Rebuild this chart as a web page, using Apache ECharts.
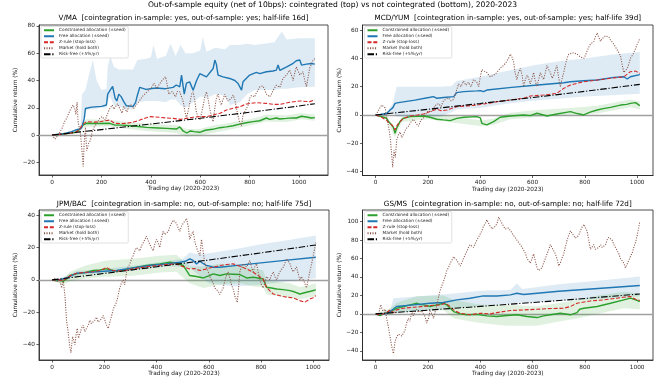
<!DOCTYPE html>
<html><head><meta charset="utf-8">
<script src="https://cdn.jsdelivr.net/npm/echarts@6/dist/echarts.min.js"></script>
<style>html,body{margin:0;padding:0;background:#fff}#c{width:665px;height:383px}</style>
</head><body><div id="c"></div><script>
// ---------------- DATA ----------------
const seriesNames = ['Constrained allocation (±seed)','Free allocation (±seed)','Z-rule (stop-loss)','Market (hold both)','Risk-free (+5%/yr)'];
const suptitle = 'Out-of-sample equity (net of 10bps): cointegrated (top) vs not cointegrated (bottom), 2020-2023';
const panelTitles = [
 'V/MA  [cointegration in-sample: yes, out-of-sample: yes; half-life 16d]',
 'MCD/YUM  [cointegration in-sample: yes, out-of-sample: yes; half-life 39d]',
 'JPM/BAC  [cointegration in-sample: no, out-of-sample: no; half-life 75d]',
 'GS/MS  [cointegration in-sample: no, out-of-sample: no; half-life 72d]'
];
const xTicks = [0,200,400,600,800,1000];
const yTicksVMA = [-20,0,20,40,60,80];
const yTicksMCD = [-40,-20,0,20,40,60];
const yTicksJPM = [-40,-20,0,20,40];
const yTicksGS  = [-40,-20,0,20,40,60,80,100];

// V/MA
const vmaConstrained = [[0,0],[30,0.5],[60,1],[95,2],[110,4],[125,7.3],[140,8.6],[180,8.5],[233,8.6],[254,7.3],[287,7.3],[328,6.6],[382,5.6],[430,5.2],[463,4.9],[503,4.4],[517,6],[530,3],[545,1.5],[560,3],[575,2.5],[598,2],[620,3.5],[650,4.2],[679,5.4],[706,6],[733,6.8],[760,8],[786,9],[814,9.8],[841,10.5],[868,12.5],[881,11.5],[908,12.5],[922,11.8],[949,12.2],[975,12.6],[989,12.5],[1010,13.8],[1030,13.2],[1050,12.5],[1064,12.8]];
const vmaConstrainedBand = [[0,0,0],[100,1,3],[125,5,10],[140,6,11.5],[233,6.5,11],[287,5,10],[382,3,8.5],[463,2,7.5],[503,1.5,7.3],[545,-1,4.5],[598,-0.5,4.5],[650,1.5,7],[706,3.5,8.5],[760,5.5,10.5],[814,7.5,12],[868,10,15],[949,9.5,14.5],[1010,11.5,16],[1064,10.5,15]];
const vmaFree = [[0,0],[20,0.5],[40,0.8],[60,1.5],[80,2.5],[100,4],[115,4.5],[121,6],[130,12],[135,19.5],[160,20.5],[200,21],[220,22],[225,30],[235,33],[245,35.6],[255,27],[262,25],[270,30],[280,28],[290,24.5],[300,21.5],[328,21],[338,24],[345,29],[355,35],[380,33.5],[420,34.5],[460,34],[490,35],[503,36.7],[517,35.4],[524,44],[535,30],[544,38],[557,39],[571,32.9],[585,40],[598,45],[625,42.7],[652,48.8],[659,55],[665,52],[672,44],[692,42.7],[719,41.5],[740,40],[753,37.8],[767,32.9],[773,39],[800,44],[827,46],[841,45],[868,46.4],[895,47],[908,47.6],[915,51.3],[922,47.5],[950,50],[976,52.6],[989,54.5],[1003,55],[1010,51.3],[1030,52],[1050,52.5],[1064,52]];
const vmaFreeBand = [[0,0,0],[60,1,2],[100,3,5],[115,3.5,6],[121,4,30],[135,18,33],[150,19,45],[165,19,55],[180,19.5,40],[200,20,33],[220,20,34],[225,25,50],[235,28,58],[250,22,50],[270,21,48],[300,19,48],[328,19,48],[345,24,55],[380,25,56],[400,25,57],[410,25,66],[425,25,56],[460,24,58],[480,26,67],[500,26,58],[520,22,66],[540,20,60],[570,24,60],[600,28,62],[610,28,72],[625,27,61],[660,30,64],[700,29,63],[720,22,66],[760,24,66],[790,30,67],[820,33,66],[860,33,67],[900,33,68],[930,34,76],[950,34,70],[1000,35,71],[1064,35.5,71]];
const vmaZrule = [[0,0],[30,0.5],[60,1],[95,2],[110,4],[125,8],[139,9.8],[170,9.5],[193,9.8],[233,11],[254,8.6],[280,8.5],[301,8.6],[330,9.5],[355,11],[395,13.5],[436,13],[463,12.5],[490,12.2],[520,11.5],[544,12.2],[570,13],[598,13.5],[625,13.5],[652,14.7],[680,16],[706,18.3],[733,19.6],[760,20.8],[787,22.8],[827,23.7],[868,23.2],[895,22.5],[922,22.5],[962,24],[1003,25],[1043,24.5],[1064,25.7]];
const vmaMarket = [[0,0],[5,-1],[11,-3],[20,-1],[31,2],[40,5],[51,10],[58,12],[65,15],[72,18],[78,20],[85,22],[92,19],[96,15],[101,24],[105,10],[110,5],[115,0.4],[120,-10],[126,-23],[130,-5],[135,5.6],[140,-11.5],[148,-6],[155,-4],[162,2],[170,6],[182,8.6],[192,12],[202,13.5],[215,11],[230,18.3],[243,22],[250,19],[257,18.3],[265,23],[270,20.8],[283,16],[290,21],[297,20.8],[303,17],[310,20.8],[320,22],[330,19.5],[340,22],[351,24.4],[364,28],[378,30.5],[392,33],[405,35.4],[412,38],[418,39],[425,34],[432,36.7],[445,40],[459,42.8],[465,38],[472,30],[486,32],[500,28],[507,32],[517,31.7],[524,28],[531,24.4],[537,18],[544,12.2],[551,18],[558,24],[565,30],[571,31.7],[578,25],[584,17],[591,13],[598,11],[605,16],[612,22],[618,28],[625,31.7],[632,26],[638,19.5],[645,14],[652,9.8],[659,20],[665,27],[672,30],[679,25],[685,22],[692,26],[699,30],[706,27],[712,25],[719,24.4],[726,27],[733,29.3],[740,26],[746,20],[753,14],[760,9],[767,6.6],[773,15],[780,17],[787,19.5],[794,22],[800,27],[807,29],[814,30],[820,28],[827,31],[834,33],[841,35.4],[848,34],[854,36],[861,33],[868,30],[875,31],[881,28],[888,30],[895,32.9],[902,34],[908,36.6],[915,37],[922,35],[928,38],[935,41.5],[942,42],[949,43.9],[955,45],[962,47.6],[969,44],[976,40],[982,45],[989,50],[996,47],[1003,44],[1010,45],[1016,46.4],[1023,40],[1030,35.4],[1036,42],[1043,49],[1050,52],[1057,55],[1064,56]];
const vmaRiskfree = [[0,0],[200,4],[400,8.1],[600,12.3],[800,16.7],[1000,21.3],[1064,23]];

// MCD/YUM
const mcdConstrained = [[0,0],[17,-1],[30,-1.5],[42,-2.4],[49,-4.7],[61,-7],[68,-9],[74,-13],[80,-9.4],[93,-4.7],[106,-2.4],[132,-1.2],[160,-1],[183,-0.7],[208,-1.6],[234,-3],[259,-3.5],[285,-4],[310,-2.4],[336,-1.6],[387,-1.2],[400,-2],[406,-5.9],[425,-7],[451,-4.7],[476,-1.6],[515,-0.7],[566,0],[591,-0.5],[617,1.2],[655,-0.7],[693,0.7],[745,2.4],[770,1],[796,0],[820,2],[847,3.5],[870,4.5],[898,5.4],[936,7],[960,7.5],[974,8.2],[994,8.7],[1010,6.6]];
const mcdConstrainedBand = [[0,0,0],[40,-3,-0.5],[74,-16,-10],[100,-5,-1],[200,-3,0.5],[300,-5.5,-1],[406,-8,-4],[451,-7,-2.5],[515,-3,1.5],[617,-1.5,3.5],[745,0,5],[847,1,6.5],[974,5.5,11],[1010,4,9.5]];
const mcdFree = [[0,0],[20,0.3],[42,1],[55,3.5],[65,5],[74,8.2],[87,8.7],[150,10.5],[208,12.5],[221,13],[234,11.8],[260,12.3],[298,13],[310,15.8],[336,16.5],[387,17],[400,17.2],[412,16.5],[425,17.6],[520,19.5],[620,21.2],[719,22.8],[745,23.5],[796,24.2],[847,24.7],[911,26.6],[949,27],[962,25.4],[974,27],[1010,28.5]];
const mcdFreeBand = [[0,0,0],[42,0,2],[65,2,8],[80,-1,20],[250,-1,20],[290,2,20.5],[310,4,24],[400,5,27],[500,8,31],[600,10,35],[700,11.5,38],[800,13,40],[900,14,42.5],[1010,15,44.5]];
const mcdZrule = [[0,0],[17,-1],[30,-2.5],[42,-4],[61,-7],[68,-8.5],[74,-10.6],[80,-8],[87,-5.9],[106,-2.4],[132,-0.7],[160,0],[183,0.7],[208,2.4],[234,4],[250,3],[272,3.5],[290,4.5],[310,5.9],[349,6.4],[387,7],[412,7.8],[440,8.5],[464,9.4],[515,10.6],[566,11.8],[591,13.4],[642,14.1],[693,15.3],[705,17],[719,18.8],[745,21.2],[796,23.5],[847,24.7],[898,25.9],[949,27],[974,30.6],[994,31],[1010,29.4]];
const mcdMarket = [[0,0],[10,3],[16,5],[23,7],[30,6],[36,5],[42,-2],[49,-8],[55,-15],[61,-28],[65,-37],[70,-25],[75,-30],[80,-18],[87,-14],[93,-12],[100,-16],[106,-15],[115,-10],[125,-8],[135,-5],[144,-3],[155,-6],[163,-8],[172,-4],[183,-2],[192,1],[202,3],[212,2],[221,5],[230,7],[240,8],[250,6],[259,10],[268,11],[278,12],[288,10],[298,11],[305,15],[317,22],[326,20],[336,24],[345,21],[355,23],[365,20],[374,25],[380,24],[387,23],[394,20],[400,27],[406,32],[415,31],[425,30],[438,27],[451,28],[463,30],[476,33],[489,35],[502,38],[508,40],[515,43],[521,41],[527,38],[533,30],[540,25],[546,30],[553,33],[560,28],[566,20],[572,25],[579,28],[585,26],[591,22],[598,26],[604,30],[610,24],[617,20],[623,25],[630,30],[636,27],[642,25],[649,30],[655,35],[662,32],[668,30],[675,26],[681,28],[687,32],[693,35],[700,26],[706,20],[712,25],[719,30],[726,36],[732,40],[738,43],[745,42],[757,44],[770,43],[783,41],[796,40],[802,42],[808,45],[815,48],[821,50],[828,51],[834,52],[840,55],[847,58],[853,55],[860,52],[866,54],[872,55],[879,56],[885,57],[892,55],[898,53],[904,52],[911,50],[917,48],[923,47],[930,44],[936,42],[942,36],[949,30],[955,31],[962,33],[968,36],[974,40],[981,42],[987,44],[994,47],[1000,50],[1005,52],[1010,54]];
const mcdRiskfree = [[0,0],[200,4],[400,8.1],[600,12.3],[800,16.7],[1010,21.6]];

// JPM/BAC
const jpmConstrained = [[0,0],[15,-0.5],[29,0],[42,-1],[55,0.6],[68,2.7],[93,3.7],[131,4.7],[157,5.8],[183,6.2],[208,6.8],[234,5.8],[259,5.4],[285,6.5],[310,7.4],[361,8.9],[412,9.9],[451,10.9],[476,10.3],[502,8.9],[515,5.8],[527,2.7],[553,2.1],[579,1.2],[600,2.5],[617,3.7],[642,2.7],[668,3.7],[693,3.5],[719,3.3],[745,1.2],[770,1.6],[795,1],[808,0.6],[815,-2],[821,-4.5],[840,-5],[860,-5.6],[885,-6],[911,-6.6],[930,-7.5],[949,-8.7],[974,-7.6],[990,-7],[1010,-6.2]];
const jpmConstrainedBand = [[0,0,0],[40,-3,0.5],[68,-1,5],[131,1,9],[208,2,12],[310,2.5,13],[412,4.5,15],[476,5,15.5],[527,-2,8.5],[579,-5,8.5],[642,-3,10],[719,-2,9],[770,-4,7],[808,-4.5,6],[821,-9,0],[911,-11,-2],[949,-12,-4.5],[1010,-10,-2]];
const jpmFree = [[0,0],[29,0],[55,1.2],[93,4.1],[130,4.5],[183,5.2],[246,5.8],[310,7.4],[374,8.9],[438,9.9],[489,10.9],[510,11.5],[527,13],[540,12],[553,9.9],[566,11.5],[579,10],[591,8.9],[604,8.5],[617,7.8],[642,7.8],[700,8.8],[800,10.5],[900,12.2],[1010,14]];
const jpmFreeBand = [[0,0,0],[55,0,2.5],[93,2.5,5.5],[183,4,6.5],[310,6,8.8],[438,8.5,11.5],[500,8,13],[527,8,17],[553,4,16],[600,-2,16.5],[700,-4,19],[800,-3,22],[900,-1,24.5],[1010,1,27.4]];
const jpmZrule = [[0,0],[29,0],[42,-0.5],[55,1.2],[68,2.5],[93,4.1],[131,4.7],[157,5],[183,5.8],[200,7],[208,7.8],[220,6.5],[234,5.8],[260,5.5],[285,6],[310,6.8],[361,8.2],[400,8.8],[438,9.5],[476,9.9],[502,8.2],[527,6.8],[545,7],[566,5.8],[585,6.5],[604,7.4],[620,8],[642,8.9],[668,9.5],[693,9.9],[719,8.5],[745,6.8],[770,4.7],[795,2],[808,0.6],[821,-4.5],[835,-7],[847,-8.7],[866,-9.5],[885,-10.3],[904,-10.8],[923,-11.1],[949,-12.8],[968,-13.8],[987,-11.8],[1000,-11],[1010,-9.7]];
const jpmMarket = [[0,0],[10,1],[16,-1],[23,-2],[30,-1],[36,-5],[42,0],[49,-10],[55,-25],[61,-32],[65,-38],[68,-42],[72,-45],[78,-35],[83,-38],[87,-40],[92,-33],[96,-30],[101,-36],[106,-35],[112,-30],[119,-28],[125,-32],[131,-32],[138,-28],[144,-25],[150,-27],[157,-28],[163,-25],[170,-23],[176,-26],[183,-26],[189,-24],[195,-22],[202,-25],[208,-28],[215,-30],[221,-26],[228,-22],[234,-18],[240,-16],[246,-14],[252,-10],[259,-5],[265,-2],[272,0],[278,-3],[285,5],[291,8],[298,10],[304,13],[310,15],[317,18],[323,20],[330,19],[336,18],[342,21],[349,23],[355,25],[361,27],[368,24],[374,22],[380,20],[387,18],[393,22],[400,25],[406,23],[412,20],[419,26],[425,30],[432,28],[438,27],[445,30],[451,33],[457,35],[464,37],[470,36],[476,35],[483,32],[489,30],[495,33],[502,35],[508,36],[515,38],[521,33],[527,25],[533,28],[540,30],[546,24],[553,20],[560,17],[566,15],[572,25],[578,18],[585,10],[591,8],[598,5],[604,2],[610,0],[617,-2],[623,-5],[630,-4],[636,-7],[642,-9],[649,-10],[655,-5],[662,0],[668,3],[674,5],[681,1],[687,-3],[694,-6],[700,-10],[705,-12],[709,-14],[714,-5],[719,5],[725,8],[732,10],[738,9],[745,8],[751,10],[757,12],[764,8],[770,5],[776,8],[783,10],[789,5],[796,0],[802,-3],[808,-5],[815,-2],[821,2],[828,1],[834,0],[840,3],[847,5],[853,2],[860,0],[866,3],[872,5],[879,6],[885,8],[891,10],[898,13],[904,12],[911,10],[917,7],[923,5],[930,6],[936,8],[942,4],[949,0],[955,2],[962,3],[968,-2],[974,-5],[981,0],[987,5],[994,10],[1000,15],[1005,19],[1010,23]];
const jpmRiskfree = [[0,0],[200,4],[400,8.1],[600,12.3],[800,16.7],[1010,21.6]];

// GS/MS
const gsConstrained = [[0,0],[17,-1.8],[36,0.7],[55,2.5],[80,6],[106,8],[132,9.7],[157,11.5],[170,10],[183,9.7],[208,8],[234,9.7],[259,11.5],[272,9.7],[285,6],[298,2.5],[323,0],[349,-1],[387,-0.5],[425,-2.2],[464,-2.9],[502,-1.8],[540,-1],[579,-2.9],[617,-4],[642,-2.2],[668,-1],[706,0.7],[745,-1],[770,1.4],[780,5],[796,6.1],[847,8],[898,11.5],[949,15.2],[974,17],[994,15.2],[1010,13.4]];
const gsConstrainedBand = [[0,0,0],[55,-1,6],[80,1,12],[157,3,19],[259,4,20],[300,-5,15],[400,-10,10],[500,-13,10],[617,-13,8],[706,-8,12],[770,-5,15],[850,0,20],[949,6,24],[1010,5,22]];
const gsFree = [[0,0],[36,0],[55,2.5],[80,8],[144,9.7],[208,11.5],[259,12.3],[310,15.2],[361,17],[412,19.5],[464,19.3],[515,20.6],[540,22.4],[566,21],[700,24.5],[850,27.5],[1010,30.7]];
const gsFreeBand = [[0,0,0],[55,1,4],[68,1,17],[200,4,20],[300,6,22],[400,8.5,25],[515,11,26],[540,12,33],[560,12,27],[700,14,32],[850,16,36],[1010,19,40.4]];
const gsZrule = [[0,0],[17,-1],[40,1],[55,4.3],[68,1.4],[80,4.3],[106,6.1],[144,7.2],[183,8],[208,9],[246,9.7],[266,11.5],[278,9.5],[298,4.3],[323,0.7],[361,-1],[400,0.7],[438,0],[464,1.4],[515,3.6],[566,4.3],[617,5],[668,5.8],[719,6.1],[745,8],[770,11.5],[821,14],[872,15.2],[923,17],[949,18],[974,18.8],[994,15.9],[1010,14.4]];
const gsMarket = [[0,0],[10,-2],[19,10],[27,3],[36,5],[42,-5],[49,-15],[55,-25],[61,-35],[65,-40],[68,-43],[74,-30],[80,-25],[87,-22],[93,-20],[100,-24],[106,-22],[112,-18],[118,-10],[125,-5],[131,-8],[138,3],[144,-2],[150,2],[157,5],[163,2],[170,0],[176,3],[183,5],[189,-3],[195,-10],[202,-5],[208,3],[215,0],[221,-5],[228,3],[234,10],[240,18],[246,25],[252,30],[259,35],[265,40],[272,47],[278,50],[285,55],[291,58],[298,62],[304,60],[310,58],[317,55],[323,52],[330,56],[336,60],[342,64],[349,68],[355,72],[361,75],[368,74],[374,72],[380,76],[387,80],[393,83],[400,85],[406,90],[412,95],[419,98],[425,102],[432,98],[438,95],[445,92],[451,90],[457,95],[464,98],[470,105],[476,103],[483,98],[489,95],[495,92],[502,90],[508,93],[515,92],[521,88],[527,85],[533,83],[540,80],[546,78],[553,75],[560,72],[566,70],[572,66],[579,60],[585,58],[591,55],[598,60],[604,65],[610,58],[617,50],[623,47],[630,45],[636,50],[642,55],[649,60],[655,65],[662,70],[668,75],[674,72],[681,70],[687,65],[693,60],[700,52],[706,55],[712,60],[719,65],[725,72],[732,80],[738,85],[745,90],[751,88],[757,85],[764,82],[770,80],[776,85],[783,90],[789,94],[796,97],[802,95],[808,90],[815,80],[821,70],[828,72],[834,75],[840,70],[847,68],[853,72],[860,75],[866,72],[872,70],[879,75],[885,80],[891,83],[898,85],[904,80],[911,75],[917,72],[923,70],[930,65],[936,60],[942,58],[949,55],[955,50],[962,52],[968,58],[974,62],[981,66],[987,72],[994,78],[1000,85],[1005,92],[1010,100]];
const gsRiskfree = [[0,0],[200,4],[400,8.1],[600,12.3],[800,16.7],[1010,21.6]];

// ---------------- LAYOUT ----------------
const panels = [
 {g:{left:39, top:25, width:289, height:150}, x:[-53.2,1117.2], y:[-29.3,80.7], yt:yTicksVMA, titleTop:14.5,
  d:{c:vmaConstrained, cb:vmaConstrainedBand, f:vmaFree, fb:vmaFreeBand, z:vmaZrule, m:vmaMarket, r:vmaRiskfree}},
 {g:{left:362.5, top:25, width:290.5, height:150.5}, x:[-50.5,1060.5], y:[-42.8,63.6], yt:yTicksMCD, titleTop:14.5,
  d:{c:mcdConstrained, cb:mcdConstrainedBand, f:mcdFree, fb:mcdFreeBand, z:mcdZrule, m:mcdMarket, r:mcdRiskfree}},
 {g:{left:39, top:210, width:290, height:150}, x:[-50.5,1060.5], y:[-49.5,43.2], yt:yTicksJPM, titleTop:201,
  d:{c:jpmConstrained, cb:jpmConstrainedBand, f:jpmFree, fb:jpmFreeBand, z:jpmZrule, m:jpmMarket, r:jpmRiskfree}},
 {g:{left:362.5, top:210, width:290.5, height:150}, x:[-50.5,1060.5], y:[-50,112.6], yt:yTicksGS, titleTop:201,
  d:{c:gsConstrained, cb:gsConstrainedBand, f:gsFree, fb:gsFreeBand, z:gsZrule, m:gsMarket, r:gsRiskfree}}
];

const FONT = 'DejaVu Sans';
const TXT = '#1a1a1a';
const minus = v => v < 0 ? '\u2212' + Math.abs(v) : String(v);

const grids = [], xAxes = [], yAxes = [], series = [], legends = [];
const titles = [{text: suptitle, left: 332.5, top: 1.5, textAlign: 'center', padding: 0,
  textStyle: {fontSize: 7.6, fontWeight: 'normal', fontFamily: FONT, color: '#000'}}];

function bandSeries(band, color, i) {
  return {
    type: 'custom', xAxisIndex: i, yAxisIndex: i, silent: true, animation: false, z: 1, clip: true,
    data: band, encode: {x: 0, y: [1, 2]},
    renderItem(params, api) {
      if (params.dataIndex !== 0) return null;
      const top = band.map(p => api.coord([p[0], p[2]]));
      const bot = band.map(p => api.coord([p[0], p[1]])).reverse();
      return {type: 'polygon', shape: {points: top.concat(bot)}, style: {fill: color}};
    }
  };
}
function lineSeries(name, data, color, width, type, i, extra) {
  return Object.assign({
    type: 'line', name, data, xAxisIndex: i, yAxisIndex: i, showSymbol: false, symbol: 'none',
    animation: false, silent: true, z: 2,
    lineStyle: {color, width, type}, itemStyle: {color}
  }, extra || {});
}

panels.forEach((p, i) => {
  grids.push(Object.assign({show: true, borderColor: '#222', borderWidth: 0.8, backgroundColor: 'transparent', containLabel: false, outerBoundsMode: 'none'}, p.g));
  xAxes.push({
    type: 'value', gridIndex: i, min: p.x[0], max: p.x[1],
    name: 'Trading day (2020-2023)', nameLocation: 'middle', nameGap: 8.5,
    nameTextStyle: {fontSize: 5.8, fontFamily: FONT, color: TXT},
    axisLine: {show: true, onZero: false, lineStyle: {color: '#222', width: 0.8}},
    axisTick: {show: true, length: 2.5, customValues: xTicks, lineStyle: {color: '#222', width: 0.7}},
    axisLabel: {customValues: xTicks, fontSize: 5.8, fontFamily: FONT, color: TXT, margin: 4, formatter: minus},
    splitLine: {show: false}
  });
  yAxes.push({
    type: 'value', gridIndex: i, min: p.y[0], max: p.y[1],
    name: 'Cumulative return (%)', nameLocation: 'middle', nameGap: 19.5,
    nameTextStyle: {fontSize: 5.8, fontFamily: FONT, color: TXT},
    axisLine: {show: true, onZero: false, lineStyle: {color: '#222', width: 0.8}},
    axisTick: {show: true, length: 2.5, customValues: p.yt, lineStyle: {color: '#222', width: 0.7}},
    axisLabel: {customValues: p.yt, fontSize: 5.8, fontFamily: FONT, color: TXT, margin: 4, formatter: minus},
    splitLine: {show: false}
  });
  titles.push({text: panelTitles[i], left: p.g.left + p.g.width / 2, top: p.titleTop, textAlign: 'center', padding: 0,
    textStyle: {fontSize: 7.2, fontWeight: 'normal', fontFamily: FONT, color: '#000'}});
  legends.push({
    left: p.g.left + 2, top: p.g.top + 1.5, orient: 'vertical', data: seriesNames, selectedMode: false,
    itemWidth: 10, itemHeight: 4.5, itemGap: 1.5, padding: [1.5, 2.5, 1.5, 2],
    itemStyle: {opacity: 0, borderWidth: 0},
    textStyle: {fontSize: 4.3, lineHeight: 4.5, fontFamily: FONT, color: '#222'},
    backgroundColor: 'rgba(255,255,255,0.8)', borderColor: '#cccccc', borderWidth: 0.6, borderRadius: 1.5
  });
  const d = p.d;
  series.push(bandSeries(d.fb, 'rgba(31,119,180,0.15)', i));
  series.push(bandSeries(d.cb, 'rgba(44,160,44,0.15)', i));
  series.push(lineSeries(seriesNames[0], d.c, '#2ca02c', 1.4, 'solid', i, {
    markLine: {silent: true, z: 1, symbol: ['none', 'none'], label: {show: false}, animation: false,
      lineStyle: {color: '#a0a0a0', width: 1.4, type: 'solid'}, emphasis: {disabled: true}, data: [{yAxis: 0}]}
  }));
  series.push(lineSeries(seriesNames[1], d.f, '#1f77b4', 1.4, 'solid', i));
  series.push(lineSeries(seriesNames[2], d.z, '#d62728', 1.1, [4, 1.8], i));
  series.push(lineSeries(seriesNames[3], d.m, '#8c564b', 1.05, [1.1, 1.4], i));
  series.push(lineSeries(seriesNames[4], d.r, '#000000', 1.1, [6.5, 1.8, 1.2, 1.8], i));
});

const chart = echarts.init(document.getElementById('c'), null, {renderer: 'canvas'});
chart.setOption({
  animation: false, backgroundColor: '#fff',
  title: titles, legend: legends, grid: grids, xAxis: xAxes, yAxis: yAxes, series
});
</script></body></html>
